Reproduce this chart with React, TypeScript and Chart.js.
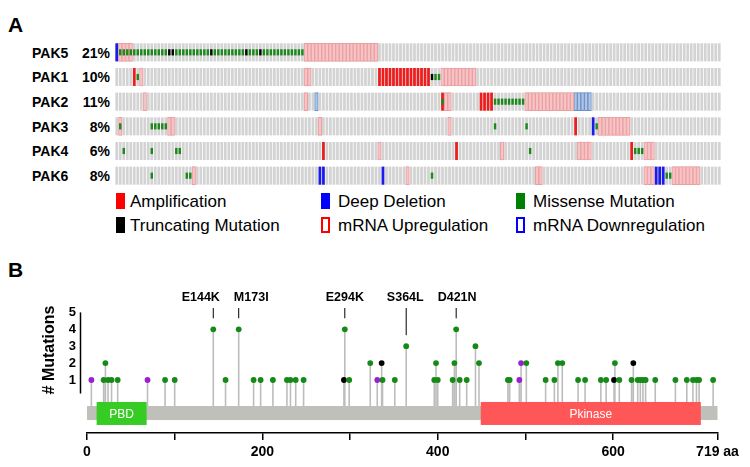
import React, { useEffect, useRef } from 'react';
import { Chart, registerables } from 'chart.js';

Chart.register(...registerables);

const FONT = '"Liberation Sans", Arial, Helvetica, sans-serif';

// ---------------- Panel A : oncoprint ----------------
const SAMPLE_COUNT = 173;
const SAMPLES = Array.from({ length: SAMPLE_COUNT }, (_, i) => String(i + 1));
const GENES = ['PAK5', 'PAK1', 'PAK2', 'PAK3', 'PAK4', 'PAK6'];
const ALTERED = ['21%', '10%', '11%', '8%', '6%', '8%'];

// runs of sample columns [first, last], one list per gene (GENES order)
const AMPLIFICATION: number[][][] = [
  [],
  [[5, 5], [75, 89]],
  [[93, 93], [104, 107]],
  [[131, 131]],
  [[59, 59], [97, 97], [147, 147]],
  [],
];
const DEEP_DELETION: number[][][] = [
  [[0, 0]],
  [],
  [],
  [[136, 136]],
  [],
  [[58, 59], [76, 76], [154, 156]],
];
const MISSENSE: number[][][] = [
  [[1, 14], [17, 26], [28, 36], [38, 40], [42, 53]],
  [[6, 6], [91, 92]],
  [[93, 93], [108, 116]],
  [[1, 1], [10, 14], [108, 108], [117, 117], [137, 137]],
  [[2, 2], [10, 10], [17, 18], [118, 118], [148, 150]],
  [[10, 10], [20, 21], [90, 90], [157, 158]],
];
const TRUNCATING: number[][][] = [
  [[15, 16], [27, 27], [37, 37], [41, 41]],
  [[90, 90]],
  [],
  [],
  [],
  [],
];
const MRNA_UP: number[][][] = [
  [[1, 4], [54, 74]],
  [[7, 7], [54, 55], [93, 102]],
  [[8, 8], [54, 54], [94, 95], [117, 130]],
  [[1, 1], [15, 16], [58, 58], [95, 95], [138, 146]],
  [[75, 75], [110, 110], [132, 135], [151, 153]],
  [[22, 22], [83, 83], [120, 121], [151, 153], [159, 166]],
];
const MRNA_DOWN: number[][][] = [
  [],
  [],
  [[57, 57], [131, 135]],
  [],
  [],
  [],
];

const LEGEND_ROWS = [
  ['Amplification', 'Deep Deletion', 'Missense Mutation'],
  ['Truncating Mutation', 'mRNA Upregulation', 'mRNA Downregulation'],
];

// ---------------- Panel B : lollipop ----------------
const PROTEIN_LENGTH = 719;
const DOMAIN_NAMES = ['PBD', 'Pkinase'];
const DOMAIN_START = [11, 449];
const DOMAIN_END = [68, 700];
const X_TICKS = [0, 100, 200, 300, 400, 500, 600, 719];
const X_TICK_LABELS = ['0', '', '200', '', '400', '', '600', '719 aa'];
const Y_TICKS = [1, 2, 3, 4, 5];

const MUTATION_POS = [
  5, 19, 21, 24, 28, 35, 69, 89, 100, 144, 158, 173, 190, 198, 212, 228, 232, 238, 247,
  293, 294, 299, 323, 331, 336, 337, 351, 364, 396, 398, 400, 417, 419, 421, 425, 433,
  443, 447, 480, 482, 493, 495, 501, 523, 533, 537, 542, 560, 568, 586, 592, 601, 602,
  607, 621, 623, 628, 631, 634, 637, 648, 671, 684, 691, 695, 698, 714,
];
const MUTATION_COUNT = [
  1, 1, 2, 1, 1, 1, 1, 1, 1, 4, 1, 4, 1, 1, 1, 1, 1, 1, 1,
  1, 4, 1, 2, 1, 2, 1, 1, 3, 1, 2, 1, 1, 2, 4, 1, 1,
  3, 2, 1, 1, 1, 2, 2, 1, 1, 2, 2, 1, 1, 1, 1, 1, 2,
  1, 1, 2, 1, 1, 1, 1, 1, 1, 1, 1, 1, 1, 1,
];
// M = missense, T = truncating, O = other
const MUTATION_TYPE = [
  'O', 'M', 'M', 'M', 'M', 'M', 'O', 'M', 'M', 'M', 'M', 'M', 'M', 'M', 'M', 'M', 'M', 'M', 'M',
  'T', 'M', 'M', 'M', 'O', 'T', 'M', 'M', 'M', 'M', 'M', 'M', 'M', 'M', 'M', 'M', 'M',
  'M', 'M', 'M', 'M', 'O', 'O', 'M', 'M', 'M', 'M', 'M', 'M', 'M', 'M', 'M', 'T', 'M',
  'M', 'M', 'T', 'M', 'M', 'M', 'M', 'M', 'M', 'M', 'M', 'M', 'M', 'M',
];
const HOTSPOT_LABELS = ['E144K', 'M173I', 'E294K', 'S364L', 'D421N'];
const HOTSPOT_POS = [144, 173, 294, 364, 421];
const HOTSPOT_COUNT = [4, 4, 4, 3, 4];

// ---------------- styling / layout ----------------
const ROW_INSET = 0.134;
const MUT_HALF = 0.125;
const GREY = '#d3d3d3';
const TYPE_COLOR: Record<string, string> = { M: '#168a16', T: '#000000', O: '#9a1fd0' };
const Y_MIN = -2.136;
const Y_MAX = 5;
const STEM_BASE = -0.54;
const BACKBONE = [-0.54, -1.37];
const DOMAIN_BAND = [-0.3, -1.66];
const DOMAIN_COLORS = ['#36cc24', '#ff5757'];

function runsToData(runs: number[][], lo: number, hi: number) {
  const arr: ([number, number] | null)[] = new Array(SAMPLE_COUNT).fill(null);
  runs.forEach(([a, b]) => {
    for (let c = a; c <= b; c++) arr[c] = [lo, hi];
  });
  return arr;
}

function barSet(data: any[], bg: string, opts: any = {}) {
  return {
    type: 'bar',
    data,
    backgroundColor: bg,
    borderWidth: 0,
    borderSkipped: false,
    grouped: false,
    categoryPercentage: 1,
    barPercentage: 0.78,
    ...opts,
  };
}

const lollipopDecor = {
  id: 'lollipopDecor',
  afterDatasetsDraw(chart: any) {
    const { ctx, chartArea } = chart;
    const x = chart.scales.x;
    const y = chart.scales.y;
    ctx.save();
    // protein backbone
    const x0 = x.getPixelForValue(0);
    const xL = x.getPixelForValue(PROTEIN_LENGTH);
    const bt = y.getPixelForValue(BACKBONE[0]);
    const bb = y.getPixelForValue(BACKBONE[1]);
    ctx.fillStyle = '#bfc0ba';
    ctx.fillRect(x0, bt, xL - x0, bb - bt);
    // domains
    const dt = y.getPixelForValue(DOMAIN_BAND[0]);
    const db = y.getPixelForValue(DOMAIN_BAND[1]);
    DOMAIN_NAMES.forEach((name, i) => {
      const a = x.getPixelForValue(DOMAIN_START[i]);
      const b = x.getPixelForValue(DOMAIN_END[i]);
      ctx.fillStyle = DOMAIN_COLORS[i];
      ctx.fillRect(a, dt, b - a, db - dt);
      ctx.fillStyle = '#ffffff';
      ctx.font = `12px ${FONT}`;
      ctx.textAlign = 'center';
      ctx.textBaseline = 'middle';
      ctx.fillText(name, (a + b) / 2, (dt + db) / 2 + 1);
    });
    // y axis line
    const axX = chartArea.left - 6.5;
    ctx.strokeStyle = '#000';
    ctx.lineWidth = 1.5;
    ctx.beginPath();
    ctx.moveTo(axX, y.getPixelForValue(5));
    ctx.lineTo(axX, y.getPixelForValue(0.2));
    ctx.stroke();
    // y title
    const midY = (y.getPixelForValue(5) + y.getPixelForValue(0.2)) / 2 - 3;
    ctx.save();
    ctx.translate(50, midY);
    ctx.rotate(-Math.PI / 2);
    ctx.font = `bold 16px ${FONT}`;
    ctx.fillStyle = '#000';
    ctx.textAlign = 'center';
    ctx.textBaseline = 'middle';
    ctx.fillText('# Mutations', 0, 0);
    ctx.restore();
    // hotspot labels with simple de-overlap
    ctx.font = `bold 12.5px ${FONT}`;
    const items = HOTSPOT_LABELS.map((t, i) => ({
      t,
      px: x.getPixelForValue(HOTSPOT_POS[i]),
      cx: x.getPixelForValue(HOTSPOT_POS[i]),
      w: ctx.measureText(t).width,
      hy: y.getPixelForValue(HOTSPOT_COUNT[i]),
    }));
    for (let k = 0; k < 3; k++) {
      for (let i = 0; i < items.length - 1; i++) {
        const a = items[i];
        const b = items[i + 1];
        const need = (a.w + b.w) / 2 + 14;
        const d = b.cx - a.cx;
        if (d < need) {
          const push = (need - d) / 2;
          a.cx -= push;
          b.cx += push;
        }
      }
    }
    const labelY = chartArea.top - 15;
    items.forEach((it) => {
      ctx.fillStyle = '#000';
      ctx.textAlign = 'center';
      ctx.textBaseline = 'middle';
      ctx.fillText(it.t, it.cx, labelY);
      ctx.strokeStyle = '#000';
      ctx.lineWidth = 1;
      ctx.beginPath();
      ctx.moveTo(it.px, chartArea.top - 4.4);
      ctx.lineTo(it.px, it.hy - 11);
      ctx.stroke();
    });
    ctx.restore();
  },
};

export default function App() {
  const refA = useRef<HTMLCanvasElement>(null);
  const refB = useRef<HTMLCanvasElement>(null);

  useEffect(() => {
    const datasets: any[] = [];
    GENES.forEach((_, r) => {
      const lo = r + ROW_INSET;
      const hi = r + 1 - ROW_INSET;
      const mlo = r + 0.5 - MUT_HALF;
      const mhi = r + 0.5 + MUT_HALF;
      datasets.push(barSet(SAMPLES.map(() => [lo, hi]), GREY, { order: 6 }));
      datasets.push(
        barSet(runsToData(MRNA_UP[r], lo, hi), '#f6c4c5', {
          order: 5, barPercentage: 1, borderWidth: 1, borderColor: '#ec9fa2',
        })
      );
      datasets.push(
        barSet(runsToData(MRNA_DOWN[r], lo, hi), '#b0c6e6', {
          order: 5, barPercentage: 1, borderWidth: 1, borderColor: '#6a8fc8',
        })
      );
      datasets.push(barSet(runsToData(AMPLIFICATION[r], lo, hi), '#ee1c1c', { order: 4 }));
      datasets.push(barSet(runsToData(DEEP_DELETION[r], lo, hi), '#1a1aee', { order: 4 }));
      datasets.push(barSet(runsToData(MISSENSE[r], mlo, mhi), '#1e871e', { order: 2, barPercentage: 0.7 }));
      datasets.push(barSet(runsToData(TRUNCATING[r], mlo, mhi), '#000000', { order: 2, barPercentage: 0.7 }));
    });

    const chartA = new Chart(refA.current as HTMLCanvasElement, {
      type: 'bar',
      data: { labels: SAMPLES, datasets },
      options: {
        responsive: false,
        animation: false,
        events: [],
        layout: { padding: 0 },
        plugins: { legend: { display: false }, tooltip: { enabled: false } },
        scales: {
          x: { type: 'category', display: false, offset: true },
          y: { type: 'linear', display: false, min: 0, max: GENES.length, reverse: true },
        },
      } as any,
    });

    const stems: any[] = [];
    MUTATION_POS.forEach((p, i) => {
      stems.push({ x: p, y: STEM_BASE }, { x: p, y: MUTATION_COUNT[i] }, { x: p, y: null });
    });

    const chartB = new Chart(refB.current as HTMLCanvasElement, {
      type: 'scatter',
      data: {
        datasets: [
          {
            type: 'line',
            data: stems,
            borderColor: '#bdbdbd',
            borderWidth: 1.6,
            pointRadius: 0,
            spanGaps: false,
            order: 2,
          },
          {
            type: 'scatter',
            data: MUTATION_POS.map((p, i) => ({ x: p, y: MUTATION_COUNT[i] })),
            backgroundColor: MUTATION_TYPE.map((t) => TYPE_COLOR[t]),
            pointBackgroundColor: MUTATION_TYPE.map((t) => TYPE_COLOR[t]),
            pointBorderWidth: 0,
            pointRadius: 2.9,
            order: 1,
          },
        ] as any,
      },
      options: {
        responsive: false,
        animation: false,
        events: [],
        layout: { padding: { top: 32.4, right: 32.5, left: 0, bottom: 0 } },
        plugins: { legend: { display: false }, tooltip: { enabled: false } },
        scales: {
          x: {
            type: 'linear',
            min: 0,
            max: PROTEIN_LENGTH,
            afterBuildTicks: (s: any) => {
              s.ticks = X_TICKS.map((v) => ({ value: v }));
            },
            afterFit: (s: any) => {
              s.height = 34;
            },
            border: { display: true, color: '#000', width: 1.5 },
            grid: { drawOnChartArea: false, drawTicks: true, tickLength: 7, color: '#000', lineWidth: 1.5 },
            ticks: {
              autoSkip: false,
              maxRotation: 0,
              padding: 4,
              color: '#000',
              font: { family: FONT, size: 14, weight: 'bold' },
              callback: (_v: any, i: number) => X_TICK_LABELS[i],
            },
          },
          y: {
            type: 'linear',
            min: Y_MIN,
            max: Y_MAX,
            afterBuildTicks: (s: any) => {
              s.ticks = Y_TICKS.map((v) => ({ value: v }));
            },
            afterFit: (s: any) => {
              s.width = 87;
            },
            border: { display: false },
            grid: { display: false, drawTicks: false },
            ticks: {
              padding: 11,
              color: '#000',
              font: { family: FONT, size: 13, weight: 'bold' },
            },
          },
        },
      } as any,
      plugins: [lollipopDecor],
    });

    return () => {
      chartA.destroy();
      chartB.destroy();
    };
  }, []);

  const rowH = 148 / GENES.length;
  const swatchX = [116, 321, 516];
  const textX = [130, 338, 533];
  const legendY = [201, 225];
  const legendFont = 17;
  const swatches = [
    [
      { background: '#ff0000' },
      { background: '#0000ff' },
      { background: '#008000' },
    ],
    [
      { background: '#000000' },
      { background: '#ffffff', border: '2px solid #ff0000', boxSizing: 'border-box' },
      { background: '#ffffff', border: '2px solid #0000ff', boxSizing: 'border-box' },
    ],
  ];

  return (
    <div
      style={{
        position: 'fixed',
        left: 0,
        top: 0,
        width: 750,
        height: 467,
        background: '#ffffff',
        fontFamily: FONT,
        color: '#000',
        overflow: 'hidden',
      }}
    >
      <div style={{ position: 'absolute', left: 8, top: 14.3, fontSize: 21, lineHeight: '21px', fontWeight: 'bold' }}>A</div>
      <div style={{ position: 'absolute', left: 8, top: 259.3, fontSize: 21, lineHeight: '21px', fontWeight: 'bold' }}>B</div>
      {GENES.map((g, r) => {
        const cy = 40 + rowH * (r + 0.5);
        return (
          <React.Fragment key={g}>
            <div style={{ position: 'absolute', left: 32, top: cy - 6.8, fontSize: 14, lineHeight: '14px', fontWeight: 'bold' }}>{g}</div>
            <div style={{ position: 'absolute', right: 750 - 110, top: cy - 6.8, fontSize: 14, lineHeight: '14px', fontWeight: 'bold', textAlign: 'right' }}>{ALTERED[r]}</div>
          </React.Fragment>
        );
      })}
      <canvas
        ref={refA}
        width={606}
        height={148}
        style={{ position: 'absolute', left: 115, top: 40, width: 606, height: 148 }}
      />
      {LEGEND_ROWS.map((row, ri) =>
        row.map((label, ci) => (
          <React.Fragment key={label}>
            <div
              style={{
                position: 'absolute',
                left: swatchX[ci],
                top: legendY[ri] - 8,
                width: 9,
                height: 16,
                ...(swatches[ri][ci] as any),
              }}
            />
            <div
              style={{
                position: 'absolute',
                left: textX[ci],
                top: legendY[ri] - 0.488 * legendFont,
                fontSize: legendFont,
                lineHeight: `${legendFont}px`,
                whiteSpace: 'nowrap',
              }}
            >
              {label}
            </div>
          </React.Fragment>
        ))
      )}
      <canvas
        ref={refB}
        width={750}
        height={187}
        style={{ position: 'absolute', left: 0, top: 280, width: 750, height: 187 }}
      />
    </div>
  );
}
